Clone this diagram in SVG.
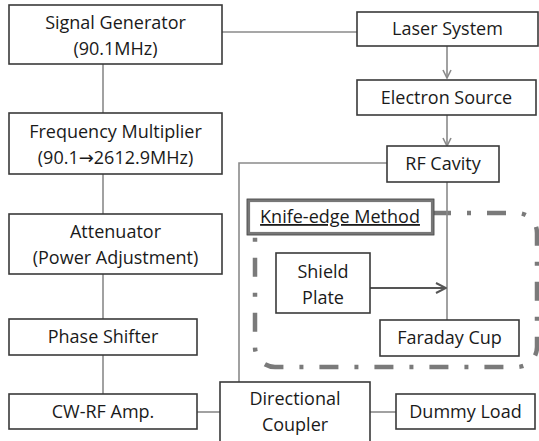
<svg xmlns="http://www.w3.org/2000/svg" width="539" height="441" viewBox="0 0 539 441">
<style>
.box{fill:#fff;stroke:#3a3a3a;stroke-width:1.6}
.t{font-family:"Open Sans","Noto Sans","DejaVu Sans",sans-serif;font-size:18px;fill:#1a1a1a;text-anchor:middle}
.c{fill:none;stroke:#8a8a8a;stroke-width:1.6}
</style>
<defs>
<marker id="chev" viewBox="0 0 10 10" refX="9" refY="5" markerWidth="10" markerHeight="10" markerUnits="userSpaceOnUse" orient="auto">
<path d="M1,1 L9,5 L1,9" fill="none" stroke="#8a8a8a" stroke-width="1.6"/>
</marker>
<marker id="chev2" viewBox="0 0 12 12" refX="11" refY="6" markerWidth="12" markerHeight="12" markerUnits="userSpaceOnUse" orient="auto">
<path d="M1,1 L11,6 L1,11" fill="none" stroke="#555" stroke-width="2"/>
</marker>
</defs>
<rect width="539" height="441" fill="#fff"/>
<g id="knife-edge-region">
<rect x="255" y="213" width="282" height="154" rx="20" ry="20" fill="none" stroke="#7a7a7a" stroke-width="4.5" stroke-dasharray="19 16 4 16" stroke-dashoffset="8"/>
</g>
<g id="connectors">
<path class="c" d="M222,32 H357"/>
<path class="c" d="M447,46 V78" marker-end="url(#chev)"/>
<path class="c" d="M447,115 V146" marker-end="url(#chev)"/>
<path class="c" d="M387,163 H239 V382"/>
<path class="c" d="M447,182 V320"/>
<path class="c" d="M103,64 V113"/>
<path class="c" d="M103,174 V214"/>
<path class="c" d="M103,274 V319"/>
<path class="c" d="M103,355 V394"/>
<path class="c" d="M197,412 H220"/>
<path class="c" d="M370,412 H396"/>
<path d="M370,288 H446" fill="none" stroke="#555" stroke-width="2" marker-end="url(#chev2)"/>
</g>
<g id="knife-edge-label">
<rect x="248.5" y="200.5" width="184" height="33" fill="#fff" stroke="#777" stroke-width="3.2"/>
<rect x="247" y="199" width="187" height="36" fill="none" stroke="#444" stroke-width="0.8"/>
<text class="t" x="340" y="223" text-decoration="underline">Knife-edge Method</text>
</g>
<g id="signal-generator">
<rect class="box" x="9" y="5" width="213" height="59"/>
<text class="t" x="115.5" y="29">Signal Generator</text>
<text class="t" x="115.5" y="55">(90.1MHz)</text>
</g>
<g id="frequency-multiplier">
<rect class="box" x="9" y="113" width="213" height="61"/>
<text class="t" x="115.5" y="138">Frequency Multiplier</text>
<text class="t" x="115.5" y="164">(90.1→2612.9MHz)</text>
</g>
<g id="attenuator">
<rect class="box" x="9" y="214" width="213" height="60"/>
<text class="t" x="115.5" y="238">Attenuator</text>
<text class="t" x="115.5" y="264">(Power Adjustment)</text>
</g>
<g id="phase-shifter">
<rect class="box" x="9" y="319" width="188" height="36"/>
<text class="t" x="103" y="343">Phase Shifter</text>
</g>
<g id="cw-rf-amp">
<rect class="box" x="9" y="394" width="188" height="35"/>
<text class="t" x="103" y="418">CW-RF Amp.</text>
</g>
<g id="laser-system">
<rect class="box" x="357" y="12" width="181" height="34"/>
<text class="t" x="447.5" y="35">Laser System</text>
</g>
<g id="electron-source">
<rect class="box" x="357" y="80" width="179" height="35"/>
<text class="t" x="446.5" y="104">Electron Source</text>
</g>
<g id="rf-cavity">
<rect class="box" x="387" y="146" width="112" height="36"/>
<text class="t" x="443" y="170">RF Cavity</text>
</g>
<g id="shield-plate">
<rect class="box" x="276" y="253" width="94" height="60"/>
<text class="t" x="323" y="278">Shield</text>
<text class="t" x="323" y="304">Plate</text>
</g>
<g id="faraday-cup">
<rect class="box" x="380" y="320" width="139" height="36"/>
<text class="t" x="449.5" y="344">Faraday Cup</text>
</g>
<g id="directional-coupler">
<rect class="box" x="220" y="382" width="150" height="62"/>
<text class="t" x="295" y="405">Directional</text>
<text class="t" x="295" y="431">Coupler</text>
</g>
<g id="dummy-load">
<rect class="box" x="396" y="394" width="139" height="35"/>
<text class="t" x="465.5" y="418">Dummy Load</text>
</g>
</svg>
